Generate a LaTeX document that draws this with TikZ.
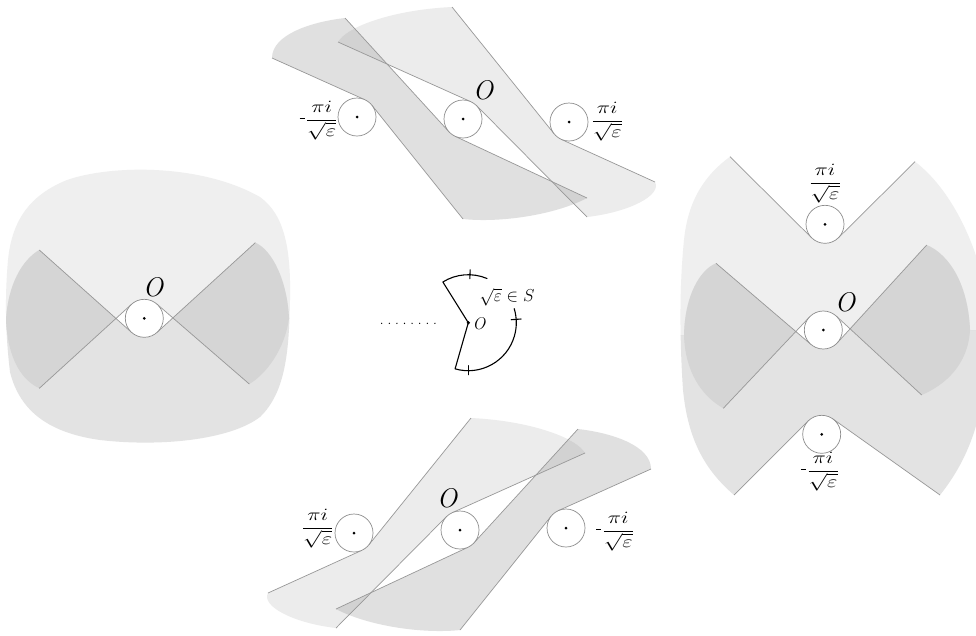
\documentclass[tikz,border=0pt]{standalone}
\usepackage{amsmath}
\usepackage{graphicx}
\usetikzlibrary{calc}

\definecolor{secTop}{HTML}{EFEFEF}
\definecolor{secBot}{HTML}{E3E3E3}
\definecolor{secBoth}{HTML}{D5D5D5}
\definecolor{bandDark}{HTML}{E0E0E0}
\definecolor{bandLight}{HTML}{ECECEC}
\definecolor{bandBoth}{HTML}{D2D2D2}
\definecolor{edgegray}{HTML}{989898}
\definecolor{holeline}{HTML}{8C8C8C}

% ---------- left panel (two sectors around 0) ----------
\def\blobL{(8,260) .. controls (12,220) and (30,195) .. (67,180) .. controls (110,165) and (200,163) .. (260,197) .. controls (285,215) and (291,250) .. (290,300) .. controls (289,350) and (286,392) .. (260,417) .. controls (230,440) and (160,447) .. (100,440) .. controls (50,433) and (20,412) .. (10,372) .. controls (5,330) and (5,295) .. (8,260) -- cycle}
\def\secLA{(-20,100) -- (320,100) -- (320,318) -- (289,318) .. controls (285,350) and (265,375) .. (249.3,384) -- (156.7,303.9) -- (144.3,318.3) -- (131.5,304.3) -- (39.3,388.3) .. controls (22,380) and (8,360) .. (6,320) -- (-20,320) -- cycle}
\def\secLB{(-20,500) -- (-20,320) -- (6,320) .. controls (8,285) and (22,260) .. (39.3,250) -- (131.7,332.5) -- (144.3,318.3) -- (157.1,332.3) -- (255.3,242.7) .. controls (272,250) and (287,280) .. (289,318) -- (320,318) -- (320,500) -- cycle}

% ---------- right panel ----------
\def\blobR{(730,156.7) -- (811.6,237.8) -- (825,224.3) -- (838.4,237.8) -- (915,161.7) .. controls (942,182) and (965,220) .. (978,262) -- (982,400) .. controls (975,440) and (960,470) .. (940,495) -- (832.7,418.8) -- (821.7,434.3) -- (808.3,420.9) -- (734,495) .. controls (705,470) and (688,440) .. (683,390) .. controls (679,330) and (680,280) .. (684,240) .. controls (688,200) and (705,175) .. (730,156.7) -- cycle}
\def\secRA{(600,100) -- (1000,100) -- (1000,330) -- (970,330) .. controls (968,365) and (945,385) .. (921.7,395) -- (836.2,316) -- (823.3,330) -- (809.5,317) -- (723.3,408.3) .. controls (700,395) and (685,370) .. (684,335) -- (600,335) -- cycle}
\def\secRB{(600,560) -- (600,335) -- (684,335) .. controls (685,295) and (700,270) .. (716,263.3) -- (810.9,344.4) -- (823.3,330) -- (837.3,342.8) -- (926.7,245) .. controls (950,255) and (968,285) .. (970,330) -- (1000,330) -- (1000,560) -- cycle}

% ---------- top panel bands (bottom panel = mirror image) ----------
\def\bandA{(272,58) -- (364.8,99.7) -- (357,117) -- (371.8,105.1) -- (463,219) .. controls (500,223) and (555,215) .. (587,198) -- (454.9,136.2) -- (463,119) -- (449,131.8) -- (345,18) .. controls (310,22) and (272,35) .. (272,58) -- cycle}
\def\bandB{(338,42) .. controls (345,28) and (390,10) .. (452,7) -- (554.2,133.9) -- (569,122) -- (561.1,139.3) -- (655,182) .. controls (662,195) and (630,212) .. (587,217) -- (476.5,105.6) -- (463,119) -- (470.8,101.7) -- cycle}
\newcommand\bandpanel{%
  \fill[bandDark] \bandA;
  \fill[bandLight] \bandB;
  \begin{scope}\clip \bandA; \fill[bandBoth] \bandB; \end{scope}
  \draw[bandedge] (272,58) -- (364.8,99.7) (371.8,105.1) -- (463,219)
                  (587,198) -- (454.9,136.2) (449,131.8) -- (345,18);
  \draw[bandedge] (452,7) -- (554.2,133.9) (561.1,139.3) -- (655,182)
                  (587,217) -- (476.5,105.6) (470.8,101.7) -- (338,42);
}
\newcommand\pifrac{\scalebox{1.3}[1]{$\dfrac{\pi i}{\sqrt{\varepsilon}}$}}
\newcommand\mpifrac{\raisebox{6pt}{\rule{5pt}{0.9pt}}\hspace{1pt}\pifrac}

\begin{document}
\begin{tikzpicture}[x=1pt,y=-1pt,
  hole/.style={circle, draw=holeline, fill=white, line width=0.7pt, minimum size=38pt, inner sep=0pt},
  ctr/.style={circle, fill=black, inner sep=0pt, minimum size=3pt},
  bandedge/.style={draw=edgegray, line width=0.7pt},
  bigO/.style={font=\fontsize{27}{30}\selectfont\itshape, inner sep=0pt},
  fraclabel/.style={font=\fontsize{16}{19}\selectfont, inner sep=0pt},
  pen/.style={line width=1.1pt, line cap=round, line join=round}]
\useasboundingbox (0,0) rectangle (976,635);
\fill[white] (0,0) rectangle (976,635);

% left panel
\begin{scope}
  \clip \blobL;
  \fill[secTop] \secLA;
  \fill[secBot] \secLB;
  \begin{scope}\clip \secLA; \fill[secBoth] \secLB; \end{scope}
\end{scope}
\draw[bandedge] (39.3,388.3) -- (131.5,304.3) (156.7,303.9) -- (249.3,384)
                (39.3,250) -- (131.7,332.5) (157.1,332.3) -- (255.3,242.7);

% right panel
\begin{scope}
  \clip \blobR;
  \fill[secTop] \secRA;
  \fill[secBot] \secRB;
  \begin{scope}\clip \secRA; \fill[secBoth] \secRB; \end{scope}
\end{scope}
\draw[bandedge] (730,156.7) -- (811.6,237.8) (838.4,237.8) -- (915,161.7)
                (716,263.3) -- (810.9,344.4) (837.3,342.8) -- (926.7,245)
                (723.3,408.3) -- (809.5,317) (836.2,316) -- (921.7,395)
                (734,495) -- (808.3,420.9) (832.7,418.8) -- (940,495);

% top and bottom panels
\bandpanel
\begin{scope}[shift={(923,411)}, xscale=-1]
  \bandpanel
\end{scope}

% holes with centre dots
\node[hole] (lC) at (144.3,318.3) {}; \node[ctr] (lCd) at (lC.center) {};
\node[hole] (rT) at (825,224.3) {};   \node[ctr] (rTd) at (rT.center) {};
\node[hole] (rM) at (823.3,330) {};   \node[ctr] (rMd) at (rM.center) {};
\node[hole] (rB) at (821.7,434.3) {}; \node[ctr] (rBd) at (rB.center) {};
\node[hole] (tL) at (357,117) {};     \node[ctr] (tLd) at (tL.center) {};
\node[hole] (tM) at (463,119) {};     \node[ctr] (tMd) at (tM.center) {};
\node[hole] (tR) at (569,122) {};     \node[ctr] (tRd) at (tR.center) {};
\node[hole] (bL) at (354,533) {};     \node[ctr] (bLd) at (bL.center) {};
\node[hole] (bM) at (460,530) {};     \node[ctr] (bMd) at (bM.center) {};
\node[hole] (bR) at (566,528) {};     \node[ctr] (bRd) at (bR.center) {};

% labels
\node[bigO] (oL) at (153,287) {O};
\node[bigO] (oR) at (845,302) {O};
\node[bigO] (oT) at (483,90) {O};
\node[bigO] (oB) at (447,498) {O};
\node[fraclabel, anchor=east] (fTl) at (338,121) {\mpifrac};
\node[fraclabel, anchor=west] (fTr) at (591,122) {\pifrac};
\node[fraclabel, anchor=east] (fBl) at (334,529) {\pifrac};
\node[fraclabel, anchor=west] (fBr) at (596,532) {\mpifrac};
\node[fraclabel] (fRt) at (825,184) {\pifrac};
\node[fraclabel] (fRb) at (820,472) {\mpifrac};

% centre sketch: the sector S of sqrt(epsilon)
\coordinate (v) at (468.3,322.7);
\coordinate (dotA) at (381.7,323.3);
\coordinate (dotB) at (435,323.3);
\draw[line width=1.4pt, line cap=round, dash pattern=on 0pt off 7.6pt] (dotA) -- (dotB);
\draw[pen] ($(v)+(-67:48)$) arc[start angle=-67, end angle=-122, radius=48] -- (v)
           -- ($(v)+(106:48)$) arc[start angle=106, end angle=-17, radius=48];
\draw[pen] ($(v)+(-88:44)$) -- ($(v)+(-88:53)$);
\draw[pen] ($(v)+(-4:43)$) -- ($(v)+(-4:53)$);
\draw[pen] ($(v)+(90:43)$) -- ($(v)+(90:52)$);
\node[ctr, minimum size=3.5pt] (vd) at (v) {};
\node[font=\fontsize{17}{20}\selectfont\itshape, inner sep=0pt] (vO) at (479,324) {O};
\node[font=\fontsize{16}{19}\selectfont, inner sep=0pt] (sS) at (507,297) {$\sqrt{\varepsilon}\in S$};
\end{tikzpicture}
\end{document}
